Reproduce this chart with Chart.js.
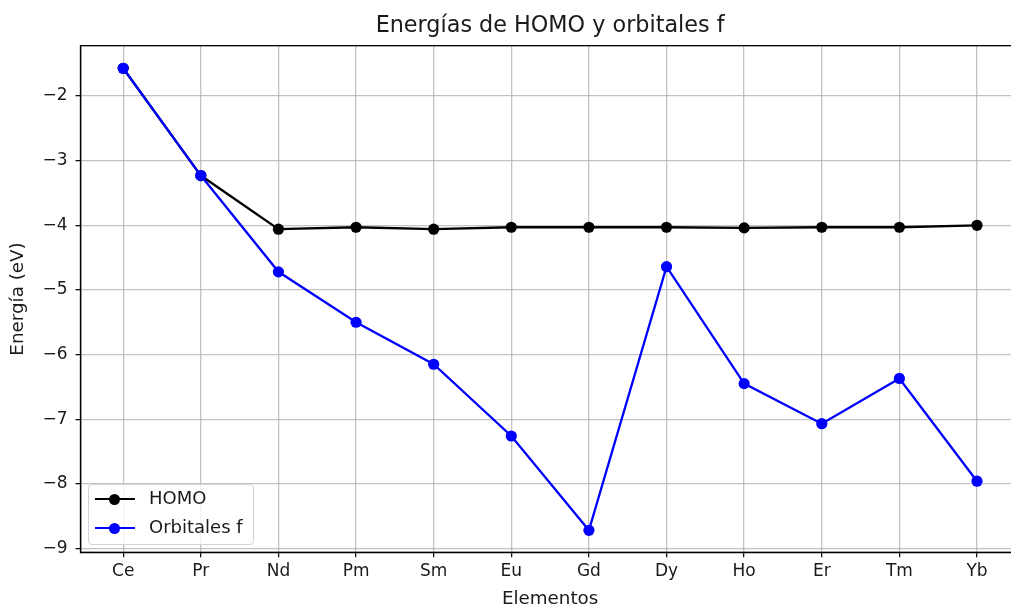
<!DOCTYPE html>
<html>
<head>
<meta charset="utf-8">
<script src="https://cdn.jsdelivr.net/npm/chart.js@4/dist/chart.umd.min.js"></script>
<style>
  html, body { margin: 0; padding: 0; background: #fff; overflow: hidden; }
  #wrap { position: relative; width: 1040px; height: 620px; }
  #legend {
    position: absolute; left: 88px; top: 484px; width: 166px; height: 61px;
    box-sizing: border-box; border: 1px solid #d4d4d4; border-radius: 4px;
    background: rgba(255,255,255,0.8);
    font-family: "DejaVu Sans", sans-serif; font-size: 18px; color: #1a1a1a;
  }
  .row { position: absolute; left: 0; height: 20px; width: 100%; }
  .row .ln { position: absolute; left: 6px; top: 9px; width: 40px; height: 2px; }
  .row .dot { position: absolute; left: 20px; top: 4.5px; width: 11px; height: 11px; border-radius: 50%; }
  .row .tx { position: absolute; left: 60px; top: -1px; line-height: 20px; white-space: nowrap; }
</style>
</head>
<body>
<div id="wrap">
  <canvas id="chart"></canvas>
  <div id="legend"></div>
</div>
<script>
// ---------- DATA ----------
const elementos = ['Ce','Pr','Nd','Pm','Sm','Eu','Gd','Dy','Ho','Er','Tm','Yb'];
const homo = [-1.57, -3.23, -4.06, -4.03, -4.06, -4.03, -4.03, -4.03, -4.04, -4.03, -4.03, -4.00];
const orbitalesF = [-1.57, -3.23, -4.72, -5.50, -6.15, -7.26, -8.72, -4.64, -6.45, -7.07, -6.37, -7.96];
const yTicks = [-9, -8, -7, -6, -5, -4, -3, -2];

const font = 'DejaVu Sans';
const textColor = '#1a1a1a';
const gridColor = 'rgba(176,176,176,0.75)';

function toPoints(values){
    return values.map((v, i) => ({ x: i, y: v }));
}

// frame (top / right spines) + title centred over the axes like matplotlib
const framePlugin = {
    id: 'frame',
    afterLayout(chart){
        if (chart.titleBlock) {
            chart.titleBlock.left = chart.chartArea.left;
            chart.titleBlock.right = chart.chartArea.right;
        }
    },
    afterDraw(chart){
        const { ctx, chartArea: a } = chart;
        ctx.save();
        ctx.strokeStyle = '#000';
        ctx.lineWidth = 1.3;
        ctx.strokeRect(a.left, a.top, a.right - a.left, a.bottom - a.top);
        ctx.restore();
    }
};

const chart = new Chart(document.getElementById('chart'), {
    type: 'line',
    data: {
        datasets: [
            { label: 'HOMO', data: toPoints(homo), borderColor: '#000', backgroundColor: '#000',
              borderWidth: 2.3, pointRadius: 5.6, pointBorderWidth: 0, order: 2 },
            { label: 'Orbitales f', data: toPoints(orbitalesF), borderColor: '#0000ff', backgroundColor: '#0000ff',
              borderWidth: 2.3, pointRadius: 5.6, pointBorderWidth: 0, order: 1 }
        ]
    },
    options: {
        responsive: true,
        maintainAspectRatio: false,
        animation: false,
        layout: { padding: { left: 0, right: 20.3, top: 0, bottom: 0 } },
        plugins: {
            legend: { display: false },
            tooltip: { enabled: false },
            title: {
                display: true,
                text: 'Energías de HOMO y orbitales f',
                color: textColor,
                font: { family: font, size: 22.3, weight: 'normal', lineHeight: 1.2 },
                padding: { top: 13, bottom: 5.9 }
            }
        },
        scales: {
            x: {
                type: 'linear',
                min: -0.55, max: 11.55,
                afterFit: s => { s.height = 67.7; },
                afterBuildTicks: s => { s.ticks = elementos.map((e, i) => ({ value: i })); },
                ticks: {
                    color: textColor, padding: 4, maxRotation: 0, autoSkip: false,
                    font: { family: font, size: 17 },
                    callback: v => elementos[v]
                },
                grid: { color: gridColor, lineWidth: 1.3, tickLength: 5, tickColor: '#000', tickWidth: 1.2 },
                border: { display: true, color: '#000', width: 1.3 },
                title: {
                    display: true, text: 'Elementos', color: textColor,
                    font: { family: font, size: 18.3, lineHeight: 1.2 },
                    padding: { top: 0, bottom: 10 }
                }
            },
            y: {
                type: 'linear',
                min: -9.06, max: -1.22,
                afterFit: s => { s.width = 80.5; },
                afterBuildTicks: s => { s.ticks = yTicks.map(v => ({ value: v })); },
                ticks: {
                    color: textColor, padding: 8,
                    font: { family: font, size: 17 },
                    callback: v => String(v).replace('-', '\u2212')
                },
                grid: { color: gridColor, lineWidth: 1.3, tickLength: 5, tickColor: '#000', tickWidth: 1.2 },
                border: { display: true, color: '#000', width: 1.3 },
                title: {
                    display: true, text: 'Energía (eV)', color: textColor,
                    font: { family: font, size: 18.3, lineHeight: 1.2 },
                    padding: { top: 7.5, bottom: 0 }
                }
            }
        }
    },
    plugins: [framePlugin]
});

// ---------- LEGEND (matplotlib style, lower left) ----------
const legend = document.getElementById('legend');
const rowTops = [4, 33];
chart.data.datasets.forEach((ds, i) => {
    const row = document.createElement('div');
    row.className = 'row';
    row.style.top = rowTops[i] + 'px';
    row.innerHTML = '<div class="ln" style="background:' + ds.borderColor + '"></div>' +
                    '<div class="dot" style="background:' + ds.backgroundColor + '"></div>' +
                    '<div class="tx">' + ds.label + '</div>';
    legend.appendChild(row);
});
</script>
</body>
</html>
